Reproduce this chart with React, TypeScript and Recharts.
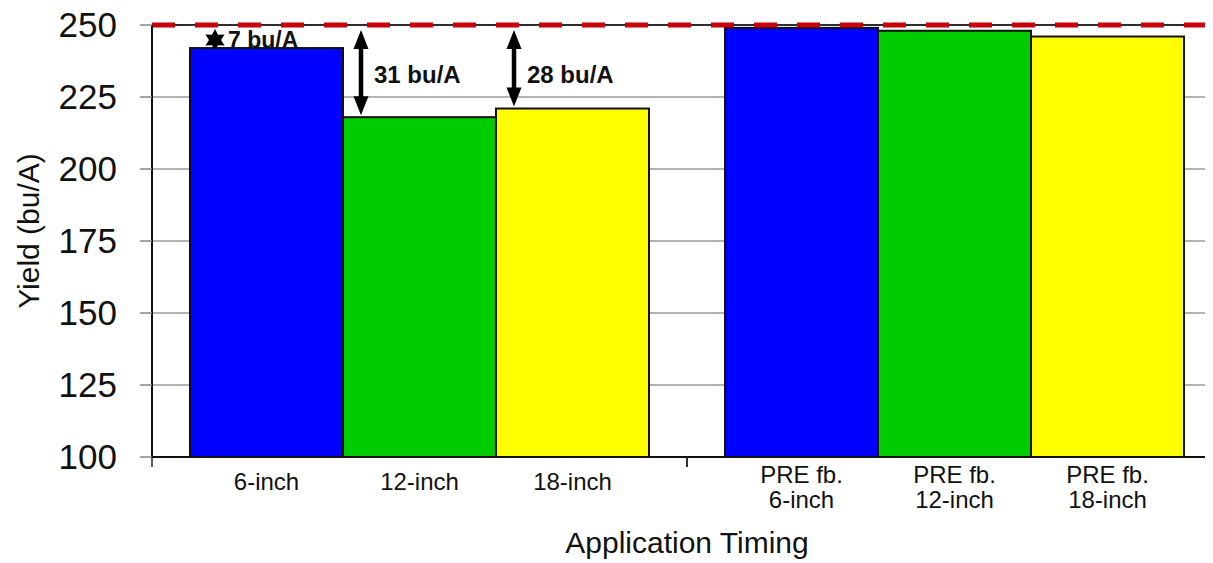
import React from 'react';
import { BarChart, Bar, XAxis, YAxis, CartesianGrid, ReferenceLine } from 'recharts';

// groups along the x axis, and the prefix shown on their tick labels
const groups = ['Single', 'PRE fb.'];
const groupPrefix = ['', 'PRE fb.'];

// application depth series
const depths = ['6-inch', '12-inch', '18-inch'];
const yield6 = [242, 249];
const yield12 = [218, 248];
const yield18 = [221, 246];

const yTicks = [100, 125, 150, 175, 200, 225, 250];
const topYield = 250;
const gapLabels = ['7 bu/A', '31 bu/A', '28 bu/A'];

const seriesKeys = ['d6', 'd12', 'd18'];
const seriesColors = ['#0000ff', '#00cc00', '#ffff00'];

const data = groups.map((g, i) => ({
  group: g,
  d6: yield6[i],
  d12: yield12[i],
  d18: yield18[i],
}));

const FONT = '"Liberation Sans", Arial, Helvetica, sans-serif';
const W = 1214;
const H = 555;
const Y_W = 144;
const X_H = 100;
const CAT_GAP = 38;
const TICK = 10;

const GroupTick = (props: any) => {
  const { x, y, payload } = props;
  const gi = Math.max(0, groups.indexOf(payload?.value));
  const half = payload?.offset || (W - Y_W) / groups.length / 2;
  const band = half * 2;
  const barW = (band - 2 * CAT_GAP) / depths.length;
  const left = x - half;
  const axisY = y - TICK;
  const prefix = groupPrefix[gi];
  return (
    <g>
      <line x1={left} x2={left} y1={axisY} y2={axisY + TICK} stroke="#222" strokeWidth={1.5} />
      <line x1={left + band} x2={left + band} y1={axisY} y2={axisY + TICK} stroke="#222" strokeWidth={1.5} />
      {depths.map((d, i) => {
        const cx = left + CAT_GAP + barW * (i + 0.5);
        return prefix ? (
          <text key={d} textAnchor="middle" fontSize={24} fill="#111">
            <tspan x={cx} y={y + 16}>{prefix}</tspan>
            <tspan x={cx} y={y + 41}>{d}</tspan>
          </text>
        ) : (
          <text key={d} x={cx} y={y + 23} textAnchor="middle" fontSize={24} fill="#111">
            {d}
          </text>
        );
      })}
    </g>
  );
};

const starPoints = (cx: number, cy: number, r: number) => {
  const pts: string[] = [];
  for (let k = 0; k < 12; k++) {
    const rr = k % 2 === 0 ? r : r * 0.55;
    const a = (Math.PI / 6) * k - Math.PI / 2;
    pts.push(`${cx + rr * Math.cos(a)},${cy + rr * Math.sin(a)}`);
  }
  return pts.join(' ');
};

const makeShape = (s: number) => (props: any) => {
  const { x, y, width, height, payload } = props;
  const value = payload[seriesKeys[s]];
  const pxPerUnit = height / (value - yTicks[0]);
  const topY = y - (topYield - value) * pxPerUnit;
  const showGap = payload.group === groups[0];
  const ax = x + 18;
  const y1 = topY + 5;
  const y2 = y - 2;
  return (
    <g>
      {showGap && s === 0 && (
        <g>
          <polygon points={starPoints(x + 25, topY + 15, 11)} fill="#000" />
          <text x={x + 38} y={topY + 23} fontSize={23} fontWeight="bold" fill="#111">
            {gapLabels[s]}
          </text>
        </g>
      )}
      <rect x={x} y={y} width={width} height={height} fill={seriesColors[s]} stroke="#111" strokeWidth={2} />
      {showGap && s > 0 && (
        <g>
          <line x1={ax} x2={ax} y1={y1 + 14} y2={y2 - 14} stroke="#000" strokeWidth={4.5} />
          <polygon points={`${ax},${y1} ${ax - 7.5},${y1 + 19} ${ax + 7.5},${y1 + 19}`} fill="#000" />
          <polygon points={`${ax},${y2} ${ax - 7.5},${y2 - 19} ${ax + 7.5},${y2 - 19}`} fill="#000" />
          <text x={ax + 13} y={topY + 58} fontSize={24} fontWeight="bold" fill="#111">
            {gapLabels[s]}
          </text>
        </g>
      )}
    </g>
  );
};

const YTitle = (props: any) => {
  const vb = props.viewBox || { x: 0, y: 17, width: Y_W, height: 432 };
  const cx = vb.x + 20;
  const cy = vb.y + vb.height / 2 - 10;
  return (
    <text
      x={cx}
      y={cy}
      transform={`rotate(-90 ${cx} ${cy})`}
      textAnchor="middle"
      dominantBaseline="central"
      fontSize={30}
      fill="#111"
    >
      Yield (bu/A)
    </text>
  );
};

export default function App() {
  return (
    <div style={{ width: 1205, height: H, overflow: 'hidden' }}>
      <BarChart
        width={W}
        height={H}
        data={data}
        margin={{ top: 17, right: 0, bottom: 6, left: 0 }}
        barCategoryGap={CAT_GAP}
        barGap={0}
        style={{ fontFamily: FONT }}
      >
        <CartesianGrid vertical={false} stroke="#9a9a9a" strokeWidth={1.5} />
        <XAxis
          dataKey="group"
          height={X_H}
          axisLine={{ stroke: '#111', strokeWidth: 2 }}
          tickLine={false}
          tickSize={TICK}
          tickMargin={0}
          interval={0}
          tick={<GroupTick />}
          label={{ value: 'Application Timing', position: 'insideBottom', offset: 4, fontSize: 30, fill: '#111' }}
        />
        <YAxis
          width={Y_W}
          domain={[yTicks[0], yTicks[yTicks.length - 1]]}
          ticks={yTicks}
          interval={0}
          axisLine={{ stroke: '#111', strokeWidth: 2 }}
          tickLine={{ stroke: '#888', strokeWidth: 1.5 }}
          tickSize={12}
          tickMargin={23}
          tick={{ fontSize: 35, fill: '#111' }}
          label={<YTitle />}
        />
        {seriesKeys.map((k, s) => (
          <Bar key={k} dataKey={k} name={depths[s]} fill={seriesColors[s]} shape={makeShape(s)} isAnimationActive={false} />
        ))}
        <ReferenceLine y={topYield} stroke="#000" strokeWidth={1.5} />
        <ReferenceLine y={topYield} stroke="#c8000a" strokeWidth={5} strokeDasharray="23 20" />
      </BarChart>
    </div>
  );
}
